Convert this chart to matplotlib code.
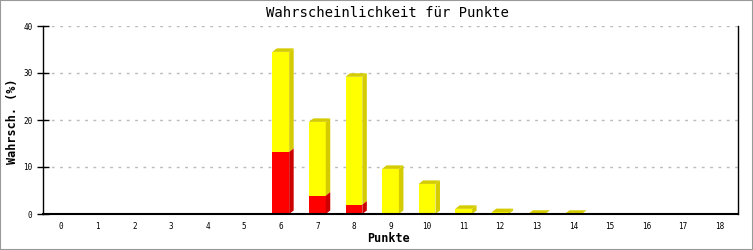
import matplotlib
matplotlib.use("Agg")
import matplotlib.pyplot as plt
from matplotlib.patches import Polygon, Rectangle

categories = list(range(19))
red_values = [0, 0, 0, 0, 0, 0, 13.2, 3.9, 2.0, 0, 0, 0, 0, 0, 0, 0, 0, 0, 0]
total_values = [0, 0, 0, 0, 0, 0, 34.5, 19.6, 29.2, 9.6, 6.4, 1.1, 0.4, 0.05, 0.05, 0, 0, 0, 0]
yticks = [0, 10, 20, 30, 40]

W, H = 753, 250
fig = plt.figure(figsize=(W / 100, H / 100), dpi=100)
fig.patch.set_facecolor("white")
fig.add_artist(Rectangle((0, 0), 1, 1, transform=fig.transFigure, fill=False,
                         edgecolor="#999999", linewidth=1.5))

L, R, B, T = 43, 738, 214, 26
ax = fig.add_axes([L / W, 1 - B / H, (R - L) / W, (B - T) / H])
xmin, xmax, ymin, ymax = -0.5, 18.5, 0, 40
ax.set_xlim(xmin, xmax)
ax.set_ylim(ymin, ymax)

# pixel -> data conversion for 3D depth
dx = 4.5 / (R - L) * (xmax - xmin)
dy = 3.5 / (B - T) * (ymax - ymin)
bw = 0.46

YEL, YEL_D = "#ffff00", "#d4cc00"
RED, RED_D = "#ff0000", "#cc0000"

for x, r, t in zip(categories, red_values, total_values):
    if t <= 0:
        continue
    x0, x1 = x - bw / 2, x + bw / 2
    ax.bar(x, t - r, bottom=r, width=bw, color=YEL, linewidth=0, zorder=3)
    ax.add_patch(Polygon([(x1, r), (x1 + dx, r + dy), (x1 + dx, t + dy), (x1, t)],
                         closed=True, facecolor=YEL_D, edgecolor="none", zorder=3))
    ax.add_patch(Polygon([(x0, t), (x0 + dx, t + dy), (x1 + dx, t + dy), (x1, t)],
                         closed=True, facecolor=YEL_D, edgecolor="none", zorder=3))
    if r > 0:
        ax.bar(x, r, width=bw, color=RED, linewidth=0, zorder=3)
        ax.add_patch(Polygon([(x1, 0), (x1 + dx, dy), (x1 + dx, r + dy), (x1, r)],
                             closed=True, facecolor=RED_D, edgecolor="none", zorder=3))

ax.set_yticks(yticks)
ax.set_yticklabels([str(v) for v in yticks], family="DejaVu Sans Mono", fontsize=5.5)
ax.set_xticks(categories)
ax.set_xticklabels([str(c) for c in categories], family="DejaVu Sans Mono", fontsize=5.5)
ax.tick_params(axis="y", direction="inout", length=9, width=1, pad=3)
ax.tick_params(axis="x", length=0, pad=6)

for v in yticks[1:]:
    ax.axhline(v, color="#bbbbbb", linewidth=1, linestyle=(0, (2, 4)), zorder=1)

ax.spines["top"].set_visible(False)
for s in ["left", "right"]:
    ax.spines[s].set_linewidth(1)
ax.spines["bottom"].set_linewidth(1.5)
ax.spines["bottom"].set_zorder(4)

fig.text(0.5 * (L + R) / W - 0.004, 1 - 13 / H, "Wahrscheinlichkeit für Punkte",
         ha="center", va="center", family="DejaVu Sans Mono", fontsize=10)
fig.text(389 / W, 1 - 239 / H, "Punkte", ha="center", va="center",
         family="DejaVu Sans Mono", fontsize=8.5, fontweight="bold")
fig.text(13 / W, 1 - 121 / H, "Wahrsch. (%)", ha="center", va="center", rotation=90,
         family="DejaVu Sans Mono", fontsize=8.5, fontweight="bold")

fig.savefig("out.png", dpi=100, facecolor="white")
